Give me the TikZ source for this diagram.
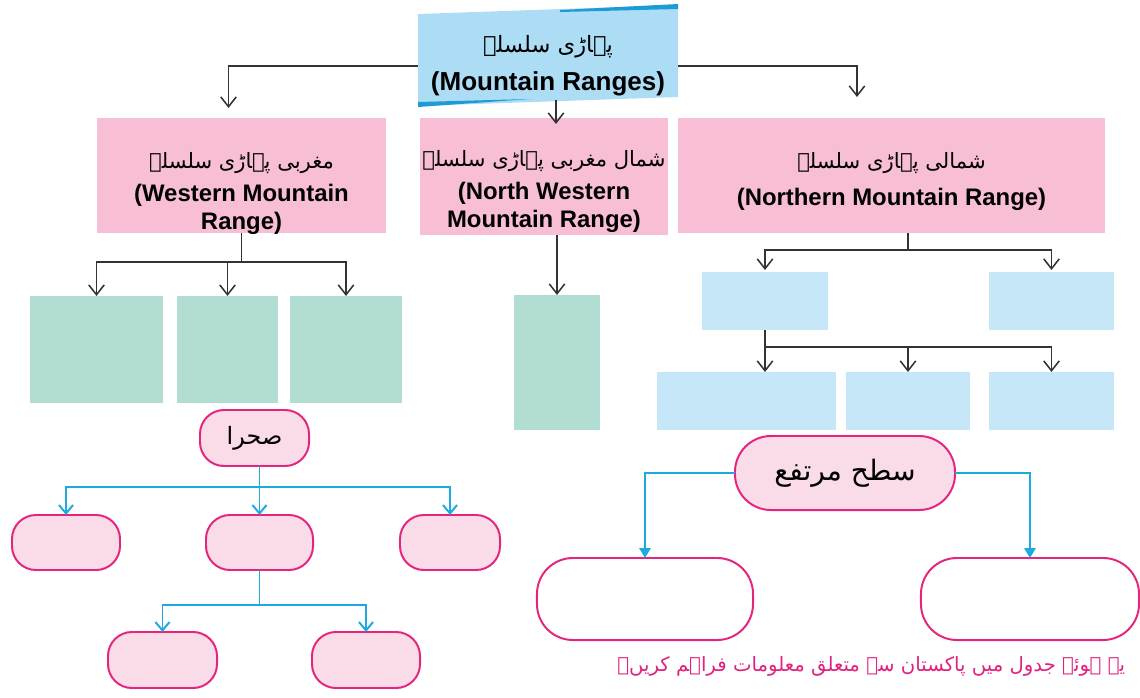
\documentclass[tikz,border=0pt]{standalone}
\usepackage{fontspec}
\setmainfont{Liberation Sans}
\newfontfamily\urdu[Script=Arabic]{DejaVu Sans}
\TeXXeTstate=1
\usetikzlibrary{arrows.meta}

\definecolor{rootblue}{HTML}{ACDDF5}
\definecolor{stripblue}{HTML}{1E9BD7}
\definecolor{rangepink}{HTML}{F7BED5}
\definecolor{fillgreen}{HTML}{B2DDD3}
\definecolor{fillblue}{HTML}{C5E7F7}
\definecolor{pillpink}{HTML}{FADCE9}
\definecolor{pillline}{HTML}{E5247D}
\definecolor{linecyan}{HTML}{1DA9E1}
\definecolor{notepink}{HTML}{E2217F}

% text of a box, lowered without changing the box size
\newcommand{\boxtext}[2]{\raisebox{#1}[0pt][0pt]{\begin{tabular}{@{}c@{}}#2\end{tabular}}}

\begin{document}
\begin{tikzpicture}[x=0.025cm, y=-0.025cm,
    box/.style={inner sep=2pt, outer sep=0pt, align=center},
    rangebox/.style={box, fill=rangepink, font=\fontsize{17}{20}\selectfont\bfseries},
    greenbox/.style={box, fill=fillgreen},
    bluebox/.style={box, fill=fillblue, minimum height=1.45cm},
    pill/.style={box, draw=pillline, line width=1.4pt, fill=pillpink, rounded corners=0.6cm},
    bigpill/.style={pill, fill=white, rounded corners=0.9cm, minimum width=5.4cm, minimum height=2.05cm},
    conn/.style={draw=black!80, line width=1.1pt, -{Straight Barb[length=7pt,width=11pt]}},
    cconn/.style={draw=linecyan, line width=1.4pt, -{Straight Barb[length=6pt,width=10pt]}},
    tconn/.style={draw=linecyan, line width=1.4pt, -{Triangle[length=7pt,width=8pt]}}
    ]
    \useasboundingbox (0,0) rectangle (1140,698);

    % root box, slightly tilted
    \fill[rootblue] (418,14) -- (678,5) -- (678,97) -- (418,106) -- cycle;
    \fill[stripblue] (560,10) -- (678,4) -- (678,9) -- (560,12) -- cycle;
    \fill[stripblue] (418,102) -- (530,99) -- (418,107) -- cycle;
    \node[box, minimum width=6.5cm, minimum height=2.325cm,
          font=\fontsize{18.5}{22}\selectfont\bfseries] (root) at (548,66)
        {{\fontsize{16}{18}\urdu\mdseries\beginR پہاڑی سلسلے\endR}\\[5pt](Mountain Ranges)};

    % mountain ranges
    \node[rangebox, minimum width=7.225cm, minimum height=2.875cm] (west) at (241.5,175.5)
        {\boxtext{-17pt}{{\fontsize{15}{18}\urdu\mdseries\beginR مغربی پہاڑی سلسلہ\endR}\\[3pt](Western Mountain\\Range)}};
    \node[rangebox, minimum width=6.05cm, minimum height=2.925cm] (nwest) at (544,176.5)
        {\boxtext{-15pt}{{\fontsize{15}{18}\urdu\mdseries\beginR شمال مغربی پہاڑی سلسلہ\endR}\\[3pt](North Western\\Mountain Range)}};
    \node[rangebox, minimum width=10.675cm, minimum height=2.875cm] (north) at (891.5,175.5)
        {\boxtext{-8.5pt}{{\fontsize{15}{18}\urdu\mdseries\beginR شمالی پہاڑی سلسلہ\endR}\\[7pt](Northern Mountain Range)}};

    \draw[conn] (root.west) -| ([shift={(-13,-10)}]west.north);
    \draw[conn] (root.east) -| ([shift={(-34.5,-21)}]north.north);
    \draw[conn] ([shift={(8,-13)}]root.south) -- ([shift={(12,6)}]nwest.north);

    % empty boxes
    \node[greenbox, minimum width=3.325cm, minimum height=2.675cm] (g1) at (96.5,349.5) {};
    \node[greenbox, minimum width=2.525cm, minimum height=2.675cm] (g2) at (227.5,349.5) {};
    \node[greenbox, minimum width=2.8cm, minimum height=2.675cm] (g3) at (346,349.5) {};
    \node[greenbox, minimum width=2.15cm, minimum height=3.375cm] (g4) at (557,362.5) {};

    \node[bluebox, minimum width=3.15cm] (b1) at (765,301) {};
    \node[bluebox, minimum width=3.125cm] (b2) at (1051.5,301) {};
    \node[bluebox, minimum width=4.475cm] (b3) at (746.5,401) {};
    \node[bluebox, minimum width=3.1cm] (b4) at (908,401) {};
    \node[bluebox, minimum width=3.125cm] (b5) at (1051.5,401) {};

    \draw[conn] (west.south) -- ++(0,29) coordinate (wsplit) -| (g1.north);
    \draw[conn] (wsplit) -| (g3.north);
    \draw[conn] (wsplit -| g2.north) -- (g2.north);
    \draw[conn] (nwest.south -| g4.north) -- (g4.north);

    \draw[conn] (north.south -| b4.north) -- ++(0,17) coordinate (nsplit) -| ([yshift=0.05cm]b1.north);
    \draw[conn] (nsplit) -| ([yshift=0.05cm]b2.north);
    \draw[conn] (b1.south) -- ++(0,17) coordinate (bsplit) -- (bsplit |- b3.north);
    \draw[conn] (bsplit) -| (b5.north);
    \draw[conn] (bsplit -| b4.north) -- (b4.north);

    % desert
    \node[pill, minimum width=2.725cm, minimum height=1.4cm] (desert) at (254.5,438)
        {\fontsize{17}{20}\urdu\beginR صحرا\endR};
    \node[pill, minimum width=2.7cm, minimum height=1.375cm] (p1) at (66,542.5) {};
    \node[pill, minimum width=2.675cm, minimum height=1.375cm] (p2) at (259.5,542.5) {};
    \node[pill, minimum width=2.5cm, minimum height=1.375cm] (p3) at (450,542.5) {};
    \node[pill, minimum width=2.725cm, minimum height=1.4cm] (q1) at (162.5,660) {};
    \node[pill, minimum width=2.7cm, minimum height=1.4cm] (q2) at (366,660) {};

    \draw[cconn] (desert.south -| p2.north) -- ++(0,21) coordinate (dsplit) -| (p1.north);
    \draw[cconn] (dsplit) -| (p3.north);
    \draw[cconn] (dsplit) -- (p2.north);
    \draw[cconn] (p2.south) -- ++(0,35) coordinate (psplit) -| (q1.north);
    \draw[cconn] (psplit) -| (q2.north);

    % plateau
    \node[pill, rounded corners=0.9cm, minimum width=5.5cm, minimum height=1.85cm] (plateau) at (845,473)
        {\fontsize{20}{24}\urdu\beginR سطح مرتفع\endR};
    \node[bigpill] (r1) at (645,599) {};
    \node[bigpill, minimum width=5.45cm] (r2) at (1030,599) {};

    \draw[tconn] (plateau.west) -| (r1.north);
    \draw[tconn] (plateau.east) -| (r2.north);

    % instruction line
    \node[anchor=east, text=notepink, font=\fontsize{14}{17}\urdu] (note) at (1130,666)
        {\beginR یے ہوئے جدول میں پاکستان سے متعلق معلومات فراہم کریں۔\endR};
\end{tikzpicture}
\end{document}
